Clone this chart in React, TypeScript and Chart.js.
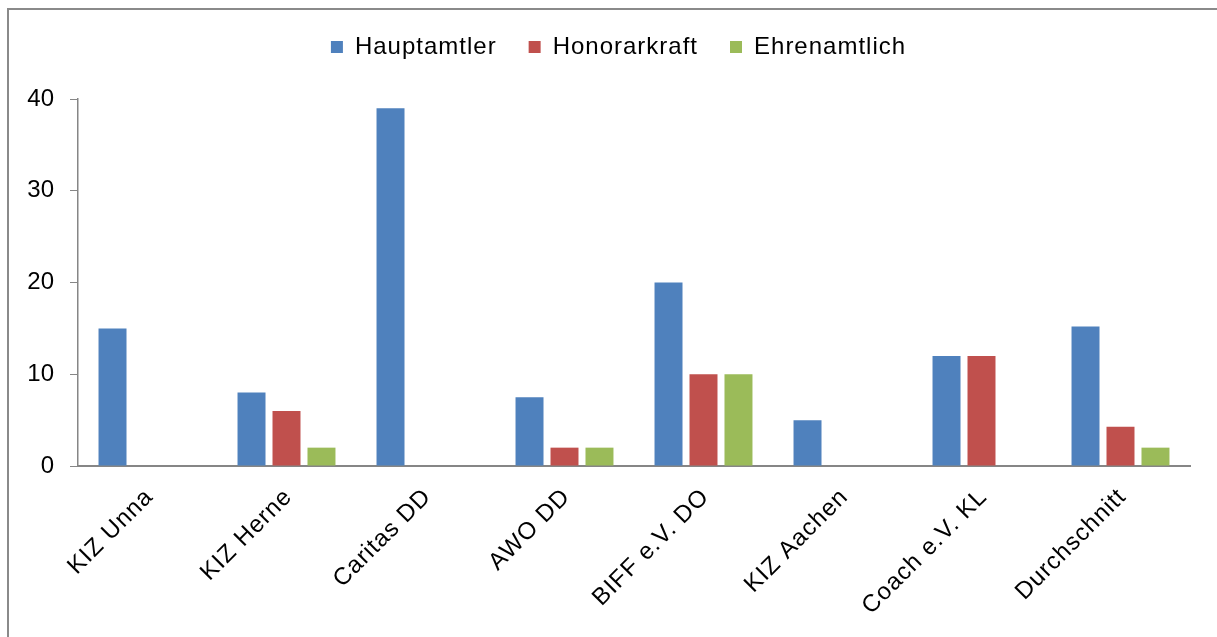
import React, { useEffect, useRef } from "react";
import { Chart, registerables } from "chart.js";

Chart.register(...registerables);

const categories = [
  "KIZ Unna",
  "KIZ Herne",
  "Caritas DD",
  "AWO DD",
  "BIFF e.V. DO",
  "KIZ Aachen",
  "Coach e.V. KL",
  "Durchschnitt",
];
const hauptamtler = [15, 8, 39, 7.5, 20, 5, 12, 15.21];
const honorarkraft = [0, 6, 0, 2, 10, 0, 12, 4.29];
const ehrenamtlich = [0, 2, 0, 2, 10, 0, 0, 2];
const seriesNames = ["Hauptamtler", "Honorarkraft", "Ehrenamtlich"];
const yTicks = [0, 10, 20, 30, 40];

const FONT = "'Liberation Sans', Arial, sans-serif";
const AXIS = "#868686";

const textTweak = {
  id: "textTweak",
  beforeLayout(chart: any) {
    const lg = chart.legend;
    if (lg && !lg._patched) {
      lg._patched = true;
      const fit = lg.fit.bind(lg);
      lg.fit = function () {
        const c = this.ctx;
        c.save();
        c.letterSpacing = "1px";
        fit();
        c.restore();
        this.height += 30;
      };
      const draw = lg.draw.bind(lg);
      lg.draw = function (...args: any[]) {
        const c = this.ctx;
        c.save();
        c.letterSpacing = "1px";
        c.translate(19, 0);
        draw(...args);
        c.restore();
      };
    }
  },
  beforeDraw(chart: any) {
    const xs = chart.scales.x;
    if (xs && !xs._patched) {
      xs._patched = true;
      const dl = xs.drawLabels.bind(xs);
      xs.drawLabels = function (...args: any[]) {
        const c = this.ctx;
        c.save();
        c.letterSpacing = "1px";
        dl(...args);
        c.restore();
      };
    }
  },
};

export default function App() {
  const ref = useRef<HTMLCanvasElement | null>(null);
  useEffect(() => {
    if (!ref.current) return;
    const chart = new Chart(ref.current, {
      type: "bar",
      data: {
        labels: categories,
        datasets: [
          { label: seriesNames[0], data: hauptamtler, backgroundColor: "#4F81BD" },
          { label: seriesNames[1], data: honorarkraft, backgroundColor: "#C0504D" },
          { label: seriesNames[2], data: ehrenamtlich, backgroundColor: "#9BBB59" },
        ],
      },
      plugins: [textTweak],
      options: {
        animation: false,
        responsive: false,
        devicePixelRatio: 1,
        layout: { padding: { top: -7, right: 27, left: 0, bottom: 0 } },
        datasets: { bar: { categoryPercentage: 0.755, barPercentage: 0.8 } },
        plugins: {
          tooltip: { enabled: false },
          legend: {
            position: "top",
            labels: {
              boxWidth: 12,
              boxHeight: 12,
              padding: 32,
              color: "#000",
              font: { family: FONT, size: 24 },
            },
          },
        },
        scales: {
          x: {
            grid: { display: false, drawTicks: false },
            border: { color: AXIS, width: 2 },
            ticks: {
              color: "#000",
              font: { family: FONT, size: 24 },
              minRotation: 45,
              maxRotation: 45,
              padding: 17,
              labelOffset: 2,
            },
            afterFit: (s: any) => {
              s.height = 171;
            },
          },
          y: {
            min: 0,
            max: 40,
            afterBuildTicks: (s: any) => {
              s.ticks = yTicks.map((v) => ({ value: v }));
            },
            grid: {
              drawOnChartArea: false,
              drawTicks: true,
              tickLength: 8,
              color: AXIS,
            },
            border: { color: AXIS, width: 1.5 },
            ticks: {
              color: "#000",
              font: { family: FONT, size: 24 },
              padding: 16,
            },
            afterFit: (s: any) => {
              s.width = 69;
            },
          },
        },
      },
    });
    return () => chart.destroy();
  }, []);
  return (
    <div
      style={{
        position: "fixed",
        left: 7,
        top: 8,
        width: 1400,
        height: 800,
        borderTop: "2px solid #8a8a8a",
        borderLeft: "2px solid #8a8a8a",
        background: "#fff",
      }}
    >
      <canvas ref={ref} width={1208} height={627} style={{ display: "block" }} />
    </div>
  );
}
